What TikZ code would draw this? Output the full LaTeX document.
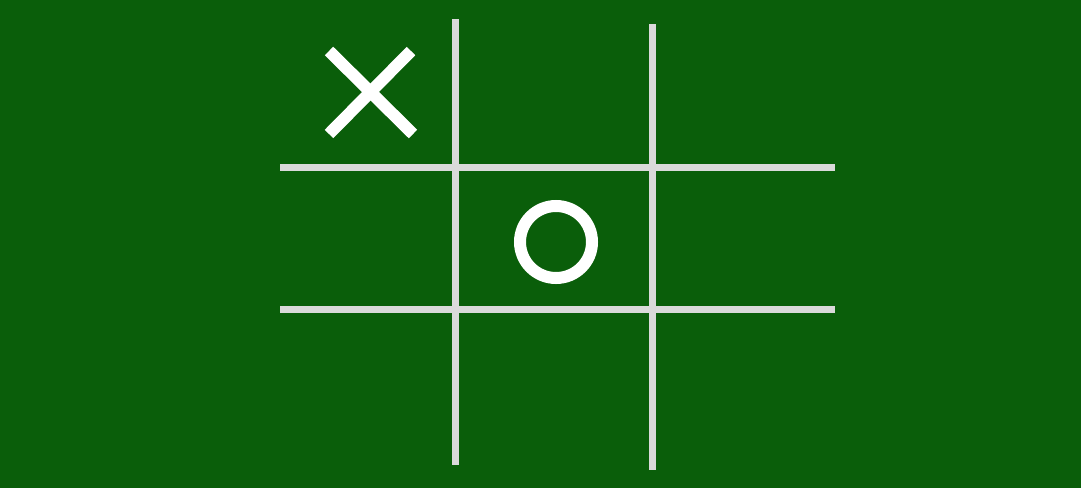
\documentclass[tikz,border=0pt]{standalone}
\definecolor{board}{RGB}{10,94,10}
\definecolor{gridline}{RGB}{218,218,218}
\begin{document}
\begin{tikzpicture}[x=1pt,y=-1pt,
  gridstroke/.style={draw=gridline,line width=7pt},
  markstroke/.style={draw=white,line width=12pt}]
\fill[board] (0,0) rectangle (1081,488);
\useasboundingbox (0,0) rectangle (1081,488);
% grid
\draw[gridstroke] (455.2,19.3) -- (455.2,465);
\draw[gridstroke] (652.5,24) -- (652.5,470);
\draw[gridstroke] (280,167.5) -- (835,167.5);
\draw[gridstroke] (280,309.8) -- (835,309.8);
% X
\draw[markstroke] (329,51) -- (413,134);
\draw[markstroke] (411,51) -- (329,134);
% O
\draw[markstroke] (556,242) circle (36);
\end{tikzpicture}
\end{document}
